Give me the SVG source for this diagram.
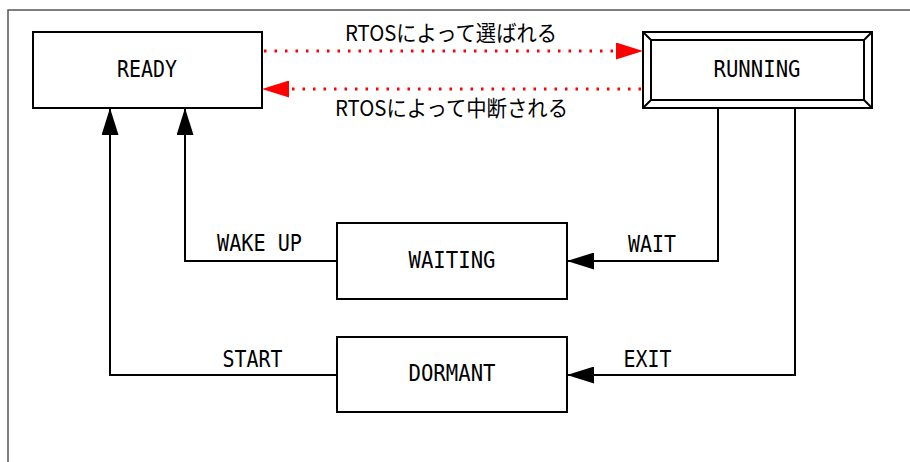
<svg xmlns="http://www.w3.org/2000/svg" width="910" height="462" viewBox="0 0 910 462">
<style>
.box{fill:#fff;stroke:#000;stroke-width:2}
.lbl{font-family:"DejaVu Sans Mono","Liberation Mono",monospace;font-size:23px;fill:#000;text-anchor:middle}
.jp{font-family:"Noto Sans CJK JP","DejaVu Sans",sans-serif;font-size:22px;fill:#000;text-anchor:middle}
.conn{fill:none;stroke:#000;stroke-width:2}
.red{fill:none;stroke:#f00;stroke-width:3;stroke-dasharray:2.5 8}
</style>
<defs>
<marker id="ab" viewBox="0 0 27 17" refX="27" refY="8.5" markerWidth="27" markerHeight="17" markerUnits="userSpaceOnUse" orient="auto">
<path d="M0,0 L27,8.5 L0,17 z" fill="#000"/>
</marker>
<marker id="ar" viewBox="0 0 27 17" refX="27" refY="8.5" markerWidth="27" markerHeight="17" markerUnits="userSpaceOnUse" orient="auto">
<path d="M0,0 L27,8.5 L0,17 z" fill="#f00"/>
</marker>
</defs>
<rect width="910" height="462" fill="#fff"/>
<rect x="8" y="10" width="1000" height="1000" fill="none" stroke="#555" stroke-width="1.5"/>
<g id="connectors">
<path class="red" d="M264,51 H643" marker-end="url(#ar)"/>
<path class="red" d="M641,89 H262" marker-end="url(#ar)"/>
<path class="conn" d="M718,108 V261 H567" marker-end="url(#ab)"/>
<path class="conn" d="M795,108 V375 H567" marker-end="url(#ab)"/>
<path class="conn" d="M337,261 H185 V108" marker-end="url(#ab)"/>
<path class="conn" d="M337,375 H110 V108" marker-end="url(#ab)"/>
<text class="jp" x="451" y="41" textLength="212" lengthAdjust="spacingAndGlyphs">RTOSによって選ばれる</text>
<text class="jp" x="451.5" y="116" textLength="233" lengthAdjust="spacingAndGlyphs">RTOSによって中断される</text>
<text class="lbl" x="259.5" y="251" textLength="85" lengthAdjust="spacingAndGlyphs">WAKE UP</text>
<text class="lbl" x="252.5" y="367" textLength="60" lengthAdjust="spacingAndGlyphs">START</text>
<text class="lbl" x="652" y="252" textLength="48" lengthAdjust="spacingAndGlyphs">WAIT</text>
<text class="lbl" x="647.5" y="367" textLength="48" lengthAdjust="spacingAndGlyphs">EXIT</text>
</g>
<g id="ready">
<rect class="box" x="33" y="32" width="229" height="76"/>
<text class="lbl" x="147" y="77" textLength="60" lengthAdjust="spacingAndGlyphs">READY</text>
</g>
<g id="running">
<rect class="box" x="643" y="32" width="229" height="76"/>
<rect class="box" x="651" y="40" width="213" height="60"/>
<path class="conn" d="M643,32 L651,40 M872,32 L864,40 M643,108 L651,100 M872,108 L864,100"/>
<text class="lbl" x="757" y="77" textLength="87" lengthAdjust="spacingAndGlyphs">RUNNING</text>
</g>
<g id="waiting">
<rect class="box" x="337" y="223" width="230" height="76"/>
<text class="lbl" x="452" y="268" textLength="87" lengthAdjust="spacingAndGlyphs">WAITING</text>
</g>
<g id="dormant">
<rect class="box" x="337" y="337" width="230" height="75"/>
<text class="lbl" x="452" y="381" textLength="87" lengthAdjust="spacingAndGlyphs">DORMANT</text>
</g>
</svg>
